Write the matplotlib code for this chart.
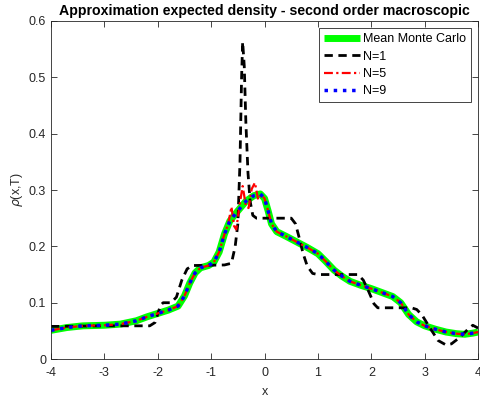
import matplotlib
matplotlib.use("Agg")
from matplotlib import pyplot as plt
import numpy as np

plt.rcParams['font.family'] = ['Liberation Sans', 'DejaVu Sans']
plt.rcParams['axes.unicode_minus'] = False

# mean Monte Carlo density at final time
x_mean = [-4.0, -3.7, -3.4, -3.0, -2.7, -2.4, -2.2, -2.0, -1.8, -1.62, -1.5, -1.4,
          -1.3, -1.2, -1.05, -0.95, -0.85, -0.75, -0.65, -0.5, -0.35, -0.2, -0.08,
          0.0, 0.07, 0.13, 0.23, 0.4, 0.6, 0.8, 1.0, 1.15, 1.3, 1.45, 1.6, 1.8,
          2.0, 2.2, 2.4, 2.55, 2.7, 2.85, 3.0, 3.2, 3.4, 3.6, 3.75, 3.9, 4.0]
rho_mean = [0.051, 0.056, 0.059, 0.060, 0.062, 0.068, 0.075, 0.081, 0.087, 0.094,
            0.112, 0.135, 0.153, 0.162, 0.166, 0.172, 0.190, 0.222, 0.245, 0.263,
            0.280, 0.290, 0.293, 0.285, 0.262, 0.240, 0.226, 0.218, 0.208, 0.198,
            0.187, 0.173, 0.158, 0.147, 0.138, 0.131, 0.125, 0.118, 0.111, 0.100,
            0.079, 0.066, 0.059, 0.053, 0.048, 0.045, 0.044, 0.046, 0.048]

# N=1 approximation
x_n1 = [-4.0, -3.85, -3.0, -2.15, -2.05, -2.0, -1.95, -1.9, -1.75, -1.65, -1.55,
        -1.45, -1.35, -0.75, -0.62, -0.55, -0.5, -0.46, -0.43, -0.41, -0.38, -0.35,
        -0.31, -0.27, -0.22, -0.15, 0.5, 0.58, 0.65, 0.72, 0.8, 0.9, 1.0, 1.75,
        1.85, 1.95, 2.05, 2.12, 2.75, 2.85, 2.95, 3.1, 3.25, 3.4, 3.5, 3.65, 3.8,
        3.9, 4.0]
rho_n1 = [0.058, 0.058, 0.059, 0.059, 0.065, 0.080, 0.095, 0.100, 0.100, 0.110,
          0.140, 0.160, 0.166, 0.167, 0.170, 0.200, 0.240, 0.350, 0.500, 0.563,
          0.520, 0.420, 0.330, 0.280, 0.255, 0.250, 0.250, 0.240, 0.215, 0.188,
          0.165, 0.152, 0.150, 0.150, 0.140, 0.120, 0.098, 0.091, 0.091, 0.088,
          0.078, 0.055, 0.033, 0.025, 0.027, 0.038, 0.052, 0.060, 0.055]

# N=5 approximation (oscillates around the peak)
x_n5 = [-4.0, -3.7, -3.4, -3.0, -2.7, -2.4, -2.2, -2.0, -1.8, -1.62, -1.5, -1.4,
        -1.3, -1.2, -1.05, -0.95, -0.85, -0.75, -0.68, -0.62, -0.57, -0.53, -0.47,
        -0.41, -0.35, -0.3, -0.24, -0.18, -0.12, -0.06, 0.0, 0.07, 0.13, 0.23,
        0.4, 0.6, 0.8, 1.0, 1.15, 1.3, 1.45, 1.6, 1.8, 2.0, 2.2, 2.4, 2.55, 2.7,
        2.85, 3.0, 3.2, 3.4, 3.6, 3.75, 3.9, 4.0]
rho_n5 = [0.051, 0.056, 0.059, 0.060, 0.062, 0.068, 0.075, 0.081, 0.087, 0.094,
          0.112, 0.135, 0.153, 0.162, 0.166, 0.172, 0.190, 0.222, 0.240, 0.270,
          0.236, 0.230, 0.272, 0.307, 0.272, 0.268, 0.302, 0.313, 0.283, 0.292,
          0.285, 0.262, 0.240, 0.226, 0.218, 0.208, 0.198, 0.187, 0.173, 0.158,
          0.147, 0.138, 0.131, 0.125, 0.118, 0.111, 0.100, 0.079, 0.066, 0.059,
          0.053, 0.048, 0.045, 0.044, 0.046, 0.048]

# N=9 approximation
x_n9 = x_mean
rho_n9 = rho_mean


def main():
    fig = plt.figure(figsize=(4.81, 4.03), dpi=100)
    ax = fig.add_axes([0.106, 0.109, 0.888, 0.839])
    dark = '#262626'

    ax.plot(x_mean, rho_mean, color='#00ff00', lw=5, label='Mean Monte Carlo',
            solid_capstyle='butt')
    ax.plot(x_n1, rho_n1, color='black', lw=2, dashes=(3, 2), label='N=1')
    ax.plot(x_n5, rho_n5, color='red', lw=1.6, dashes=(4, 1.5, 1, 1.5), label='N=5')
    ax.plot(x_n9, rho_n9, color='blue', lw=2.5, ls=':', label='N=9')

    ax.set_xlim(-4, 4)
    ax.set_ylim(0, 0.6)
    ax.set_xticks(np.arange(-4, 5, 1))
    ax.set_yticks(np.arange(0, 0.61, 0.1))
    ax.set_yticklabels(['0', '0.1', '0.2', '0.3', '0.4', '0.5', '0.6'])
    ax.tick_params(direction='in', top=True, right=True, labelsize=9,
                   colors=dark, length=4, width=0.6)
    ax.tick_params(axis='x', pad=6)
    for s in ax.spines.values():
        s.set_color(dark)
        s.set_linewidth(0.6)

    ax.set_xlabel('x', fontsize=9, color=dark, labelpad=5)
    ax.set_ylabel(r'$\rho$(x,T)', fontsize=9, color=dark, labelpad=3)
    ax.set_title('Approximation expected density - second order macroscopic',
                 fontsize=10.2, fontweight='bold', pad=4)

    leg = ax.legend(loc='upper right', fontsize=9, fancybox=False, framealpha=1,
                    edgecolor=dark, handlelength=2.9, borderaxespad=0.6,
                    borderpad=0.4, labelspacing=0.42, handletextpad=0.2)
    leg.get_frame().set_linewidth(0.6)

    plt.savefig("out.png", dpi=100)


if __name__ == "__main__":
    main()
